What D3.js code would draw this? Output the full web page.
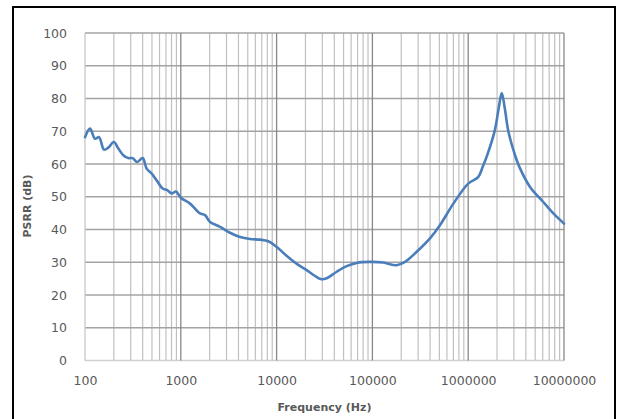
<!DOCTYPE html>
<html>
<head>
<meta charset="utf-8">
<script src="https://cdn.jsdelivr.net/npm/d3@7"></script>
<style>
  html, body { margin: 0; padding: 0; background: #fff; }
  svg { display: block; }
</style>
</head>
<body>
<svg id="chart" width="618" height="419"></svg>
<script>
// PSRR versus frequency
const freqHz = [
  100, 113, 127, 140, 158, 175, 200, 223, 251, 283, 314, 351, 400, 440, 496,
  560, 647, 723, 803, 891, 1000, 1250, 1585, 1790, 2020, 2570, 3260, 4150,
  5280, 6710, 8200, 10000, 12700, 16800, 20600, 25200, 29600, 33300, 42400,
  53900, 68600, 94400, 130000, 179000, 219000, 290000, 399000, 507000, 700000,
  1000000, 1270000, 1420000, 1580000, 1890000, 2080000, 2240000, 2410000,
  2620000, 3080000, 3410000, 4420000, 6080000, 7740000, 10000000
];
const psrrDb = [
  68.2, 70.8, 67.7, 68.2, 64.4, 65.0, 66.7, 64.7, 62.7, 61.8, 61.8, 60.6, 61.8, 58.6, 57.1,
  55.0, 52.5, 52.0, 51.0, 51.6, 49.7, 47.9, 44.9, 44.4, 42.3, 40.8, 39.0, 37.7,
  37.1, 36.9, 36.4, 34.7, 32.0, 29.2, 27.6, 25.8, 24.8, 25.1, 27.1,
  28.8, 29.8, 30.1, 29.9, 29.1, 30.1, 33.2, 37.3, 41.3, 47.9,
  54.0, 56.0, 59.2, 62.7, 70.1, 77.0, 81.7, 77.0,
  70.1, 62.7, 59.2, 53.0, 48.4, 44.9, 41.8
];
const xTickValues = [100, 1000, 10000, 100000, 1000000, 10000000];
const yTickValues = [0, 10, 20, 30, 40, 50, 60, 70, 80, 90, 100];

const svg = d3.select("#chart");
const plot = { left: 85, right: 564, top: 33, bottom: 360.5 };

const x = d3.scaleLog().domain([100, 10000000]).range([plot.left, plot.right]);
const y = d3.scaleLinear().domain([0, 100]).range([plot.bottom, plot.top]);

// outer chart frame
svg.append("rect")
  .attr("x", 13).attr("y", 7)
  .attr("width", 602).attr("height", 420)
  .attr("fill", "none").attr("stroke", "#000").attr("stroke-width", 2);

const grid = svg.append("g");

// minor vertical lines (2..9 within every decade)
const minorTicks = [];
for (let d = 100; d < 10000000; d *= 10) {
  for (let k = 2; k <= 9; k++) minorTicks.push(d * k);
}
grid.selectAll("line.minor").data(minorTicks).join("line")
  .attr("class", "minor")
  .attr("x1", d => x(d)).attr("x2", d => x(d))
  .attr("y1", plot.top).attr("y2", plot.bottom)
  .attr("stroke", "#c0c0c0").attr("stroke-width", 1.2);

// horizontal lines
grid.selectAll("line.h").data(yTickValues).join("line")
  .attr("class", "h")
  .attr("x1", plot.left).attr("x2", plot.right)
  .attr("y1", d => y(d)).attr("y2", d => y(d))
  .attr("stroke", d => d === 0 ? "#d0d0d0" : "#a3a3a3").attr("stroke-width", 1.3);

// decade lines
grid.selectAll("line.major").data(xTickValues).join("line")
  .attr("class", "major")
  .attr("x1", d => x(d)).attr("x2", d => x(d))
  .attr("y1", plot.top).attr("y2", plot.bottom)
  .attr("stroke", d => d === 100 ? "#c8c8c8" : "#888888").attr("stroke-width", 1.3);

// axes (labels only)
const labelFont = "DejaVu Sans, sans-serif";

const yAxis = svg.append("g")
  .attr("transform", `translate(${plot.left},0)`)
  .call(d3.axisLeft(y).tickValues(yTickValues).tickSize(0).tickPadding(18));
yAxis.select(".domain").remove();
yAxis.selectAll("text")
  .attr("font-family", labelFont).attr("font-size", 12.5).attr("fill", "#595959");

const xAxis = svg.append("g")
  .attr("transform", `translate(0,${plot.bottom})`)
  .call(d3.axisBottom(x).tickValues(xTickValues).tickFormat(d3.format("d")).tickSize(0).tickPadding(16));
xAxis.select(".domain").remove();
xAxis.selectAll("text")
  .attr("font-family", labelFont).attr("font-size", 12.5).attr("fill", "#595959");

// axis titles
svg.append("text")
  .attr("x", (plot.left + plot.right) / 2).attr("y", 411)
  .attr("text-anchor", "middle")
  .attr("font-family", labelFont).attr("font-weight", "bold").attr("font-size", 11)
  .attr("fill", "#595959")
  .text("Frequency (Hz)");

svg.append("text")
  .attr("transform", "translate(31,206) rotate(-90)")
  .attr("text-anchor", "middle")
  .attr("font-family", labelFont).attr("font-weight", "bold").attr("font-size", 11)
  .attr("fill", "#595959")
  .text("PSRR (dB)");

// response curve
const points = freqHz.map((f, i) => [f, psrrDb[i]]);
const line = d3.line()
  .x(d => x(d[0])).y(d => y(d[1]))
  .curve(d3.curveCatmullRom.alpha(0.5));

svg.append("path")
  .datum(points)
  .attr("d", line)
  .attr("fill", "none")
  .attr("stroke", "#4a7ebb")
  .attr("stroke-width", 2.6)
  .attr("stroke-linejoin", "round")
  .attr("stroke-linecap", "round");
</script>
</body>
</html>
